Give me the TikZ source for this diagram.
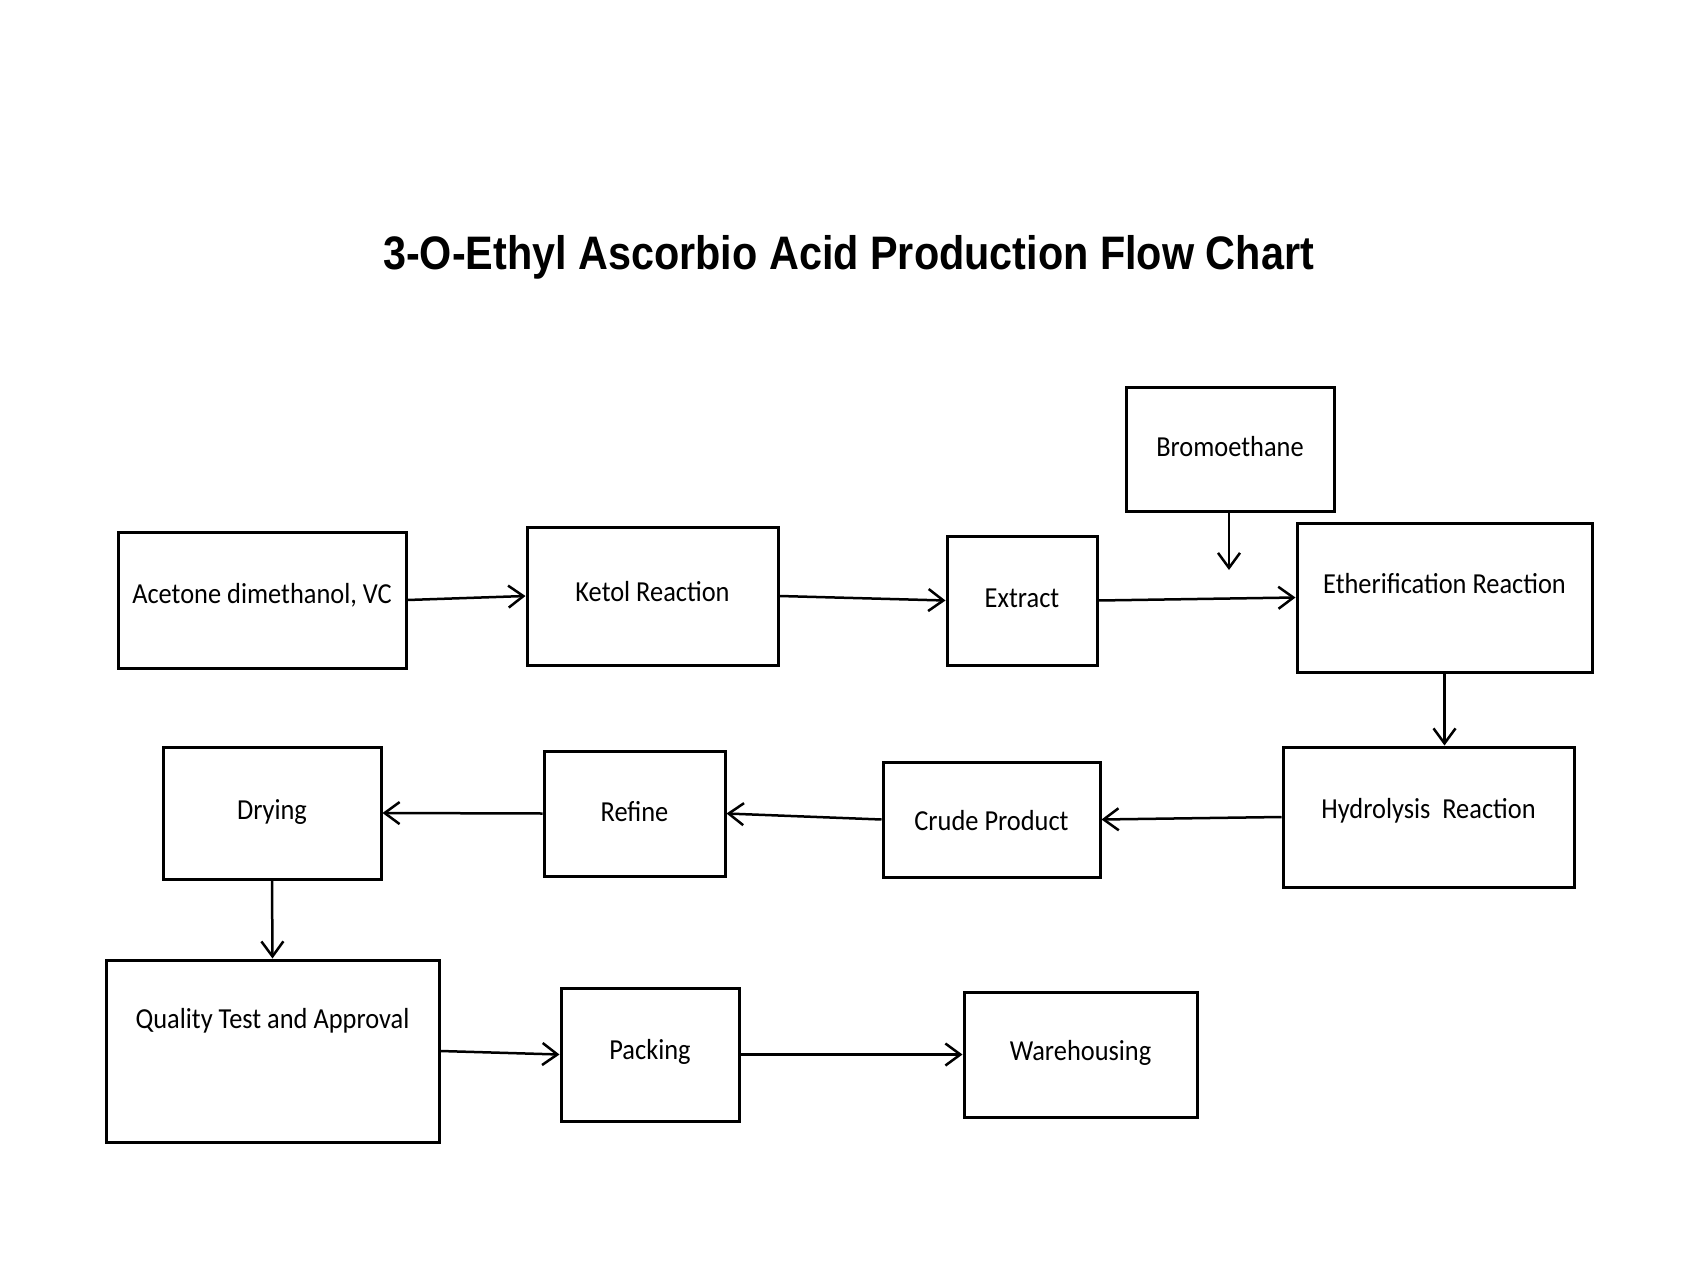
\documentclass[tikz,border=0pt]{standalone}
\usepackage{fontspec}
\usetikzlibrary{arrows.meta}
\newfontfamily\boxfont[FakeStretch=0.91]{Carlito}
\newfontfamily\titlefont[FakeStretch=0.88]{Liberation Sans}
\begin{document}
\begin{tikzpicture}[x=1pt, y=-1pt, >={Straight Barb[length=15pt,width=22pt]},
    box/.style={draw, line width=3pt, inner sep=0pt, text height=18pt, text depth=0pt,
      font=\boxfont\fontsize{29}{34}\selectfont},
    flow/.style={->, line width=2.5pt}]
  \useasboundingbox (0,0) rectangle (1706,1279);
  \node[anchor=base, font=\titlefont\bfseries\fontsize{47}{56}\selectfont] (title) at (848.5,269)
    {3-O-Ethyl Ascorbio Acid Production Flow Chart};
  % first row
  \node[box, minimum width=288pt, minimum height=136pt] (acet) at (262,600) {\raisebox{6pt}{Acetone dimethanol, VC}};
  \node[box, minimum width=251pt, minimum height=138pt] (ketol) at (652.5,596) {\raisebox{4pt}{Ketol Reaction}};
  \node[box, minimum width=150pt, minimum height=129pt] (extr) at (1022,600.5) {\raisebox{2pt}{Extract}};
  \node[box, minimum width=208pt, minimum height=124pt] (brom) at (1230,449) {\raisebox{1.5pt}{Bromoethane}};
  \node[box, minimum width=295pt, minimum height=149pt] (ether) at (1444.5,597.5) {\raisebox{13pt}{Etherification Reaction}};
  \coordinate (bromend) at (1229,570);
  % second row
  \node[box, minimum width=291pt, minimum height=140pt] (hydro) at (1428.5,817) {\raisebox{8pt}{Hydrolysis\ \ Reaction}};
  \node[box, minimum width=217pt, minimum height=115pt] (crude) at (991.5,819.5) {\raisebox{-1.5pt}{Crude Product}};
  \node[box, minimum width=181pt, minimum height=125pt] (refine) at (634.5,813.5) {\raisebox{1.5pt}{Refine}};
  \node[box, minimum width=218pt, minimum height=132pt] (dry) at (272,813) {\raisebox{3pt}{Drying}};
  % third row
  \node[box, minimum width=333pt, minimum height=182pt] (qual) at (272.5,1051) {\raisebox{31.5pt}{Quality Test and Approval}};
  \node[box, minimum width=178pt, minimum height=133pt] (pack) at (650,1054.5) {\raisebox{4pt}{Packing}};
  \node[box, minimum width=233pt, minimum height=125pt] (ware) at (1080.5,1054.5) {\raisebox{3.5pt}{Warehousing}};
  % connectors
  \draw[flow] (acet.east) -- (ketol.west);
  \draw[flow] (ketol.east) -- (extr.west);
  \draw[flow] (extr.east) -- (ether.west);
  \draw[flow] (brom.south -| bromend) -- (bromend);
  \draw[flow] (ether.south) -- (ether.south |- hydro.north);
  \draw[flow] (hydro.west) -- (crude.east);
  \draw[flow] (crude.west) -- (refine.east);
  \draw[flow] (refine.west) -- (dry.east);
  \draw[flow] (dry.south) -- (qual.north);
  \draw[flow] (qual.east) -- (pack.west);
  \draw[flow] (pack.east) -- (ware.west);
\end{tikzpicture}
\end{document}
